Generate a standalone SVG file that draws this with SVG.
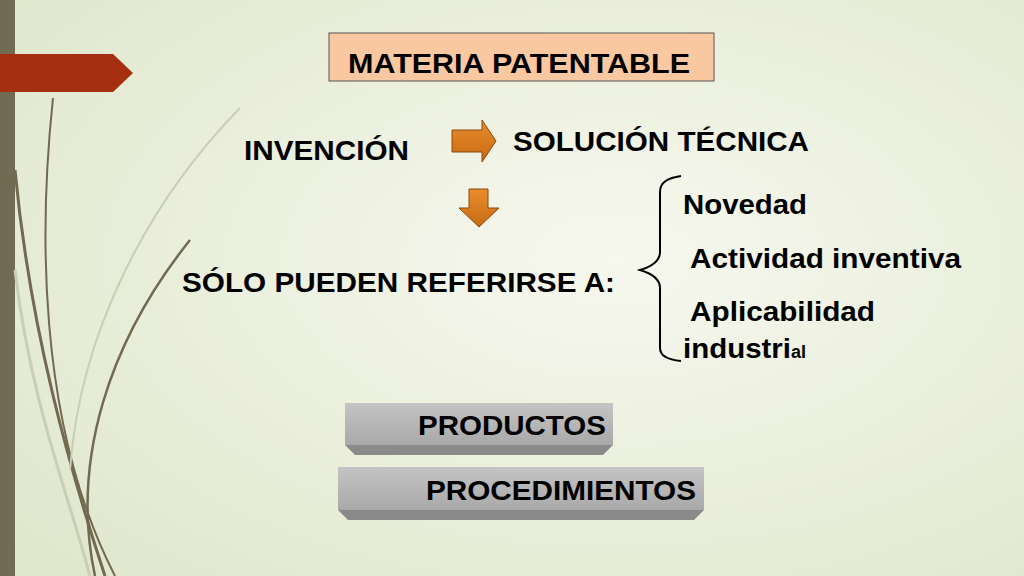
<svg xmlns="http://www.w3.org/2000/svg" width="1024" height="576" viewBox="0 0 1024 576">
<defs>
<radialGradient id="bg" cx="0.6" cy="0.45" r="0.8">
<stop offset="0" stop-color="#f6f8ee"/><stop offset="1" stop-color="#dfe6cb"/>
</radialGradient>
<linearGradient id="gb" x1="0" y1="0" x2="0" y2="1"><stop offset="0" stop-color="#c4c4c4"/><stop offset="1" stop-color="#a9a9a9"/></linearGradient>
<linearGradient id="ab" x1="0" y1="0" x2="0" y2="1"><stop offset="0" stop-color="#e98b2e"/><stop offset="1" stop-color="#c86a10"/></linearGradient>
</defs>
<style>
text{font-family:"Liberation Sans",Arial,sans-serif;font-weight:bold;fill:#000}
.t{font-size:28px}
.c{fill:none;stroke:#716950}
</style>
<rect width="1024" height="576" fill="url(#bg)"/>
<g id="decor">
<rect x="0" y="0" width="15" height="576" fill="#726a52"/>
<path d="M0 54 H113 L133 73 L113 92 H0 Z" fill="#a52f10"/>
<path class="c" stroke-width="2" d="M53 98 C40 220 35 420 115 576"/>
<path class="c" stroke-width="3" d="M15 170 C30 330 70 470 105 576"/>
<path class="c" stroke-width="2.5" d="M190 240 C110 340 70 460 95 576"/>
<path fill="none" stroke="#c9cfb4" stroke-width="2" d="M240 108 C150 200 80 330 70 470"/>
<path fill="none" stroke="#c9cfb4" stroke-width="3" d="M15 270 C30 400 70 500 90 576"/>
</g>
<g id="materia">
<rect x="329" y="33" width="385" height="48" fill="#f9c8a0" stroke="#555" stroke-width="1"/>
<text x="348" y="73" class="t" textLength="342" lengthAdjust="spacingAndGlyphs">MATERIA  PATENTABLE</text>
</g>
<g id="invencion"><text x="244" y="160" class="t" textLength="165" lengthAdjust="spacingAndGlyphs">INVENCIÓN</text></g>
<g id="solucion"><text x="513" y="151" class="t" textLength="296" lengthAdjust="spacingAndGlyphs">SOLUCIÓN TÉCNICA</text></g>
<g id="solo"><text x="182" y="292" class="t" textLength="433" lengthAdjust="spacingAndGlyphs">SÓLO PUEDEN REFERIRSE A:</text></g>
<g id="lista">
<text x="683" y="214" class="t" textLength="124" lengthAdjust="spacingAndGlyphs">Novedad</text>
<text x="690" y="268" class="t" textLength="271" lengthAdjust="spacingAndGlyphs">Actividad inventiva</text>
<text x="690" y="321" class="t" textLength="185" lengthAdjust="spacingAndGlyphs">Aplicabilidad</text>
<text x="683" y="358" class="t"><tspan textLength="108" lengthAdjust="spacingAndGlyphs">industri</tspan><tspan font-size="18px">al</tspan></text>
</g>
<g id="productos">
<path d="M345 445 H613 L603 455 H355 Z" fill="#8a8a8a"/>
<rect x="345" y="403" width="268" height="42" fill="url(#gb)"/>
<text x="418" y="435" class="t" textLength="188" lengthAdjust="spacingAndGlyphs">PRODUCTOS</text>
</g>
<g id="procedimientos">
<path d="M338 510 H704 L694 520 H348 Z" fill="#8a8a8a"/>
<rect x="338" y="467" width="366" height="43" fill="url(#gb)"/>
<text x="426" y="500" class="t" textLength="270" lengthAdjust="spacingAndGlyphs">PROCEDIMIENTOS</text>
</g>
<g id="connectors">
<path d="M452 130 H482 V120 L496 141 L482 162 V152 H452 Z" fill="url(#ab)" stroke="#8a4a10" stroke-width="1"/>
<path d="M469 189 H488 V208 H499 L479 227 L459 208 H469 Z" fill="url(#ab)" stroke="#8a4a10" stroke-width="1"/>
<path d="M681 176 C668 178 660 182 660 192 V252 C660 262 650 267 640 270 C650 273 660 278 660 288 V348 C660 357 670 360 681 361" fill="none" stroke="#000" stroke-width="2"/>
</g>
</svg>
